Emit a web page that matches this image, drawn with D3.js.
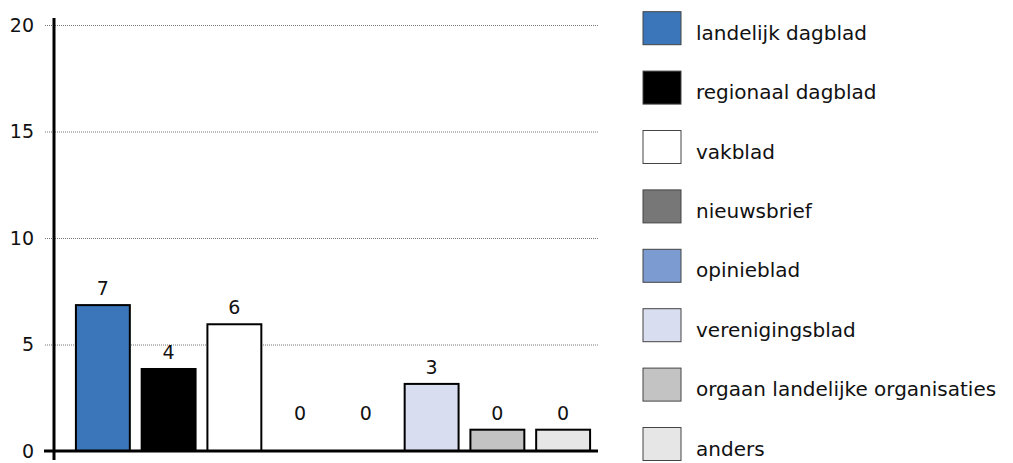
<!DOCTYPE html>
<html>
<head>
<meta charset="utf-8">
<title>Bar Chart</title>
<script src="https://d3js.org/d3.v7.min.js"></script>
<style>
  body { margin: 0; background: #fff; }
  text { font-family: "DejaVu Sans", sans-serif; fill: #111; }
</style>
</head>
<body>
<script>
// data
var categories = ["landelijk dagblad", "regionaal dagblad", "vakblad", "nieuwsbrief",
    "opinieblad", "verenigingsblad", "orgaan landelijke organisaties", "anders"];
var counts = [7, 4, 6, 0, 0, 3, 0, 0];              // printed labels
var barHeights = [6.85, 3.85, 5.95, 0, 0, 3.15, 1, 1]; // drawn bar heights
var colors = ["#3b76ba", "#000000", "#ffffff", "#777777", "#7b9bd1", "#d8ddef", "#c3c3c3", "#e6e6e6"];
var yTicks = [0, 5, 10, 15, 20];

var width = 1013, height = 463;
var plotLeft = 44, axisX = 54, plotRight = 598, zeroY = 451, topY = 25;

var svg = d3.select("body").append("svg")
    .attr("width", width)
    .attr("height", height);

var y = d3.scaleLinear().domain([0, 20]).range([zeroY, topY]);

var x = d3.scaleBand()
    .domain(categories)
    .range([70, 596])
    .paddingInner(0.18)
    .paddingOuter(0.09);

// gridlines + tick labels
var yAxis = d3.axisLeft(y)
    .tickValues(yTicks)
    .tickSize(plotRight - plotLeft)
    .tickPadding(10);

var gy = svg.append("g")
    .attr("transform", "translate(" + plotRight + ",0)")
    .call(yAxis);
gy.select(".domain").remove();
gy.selectAll(".tick line")
    .attr("stroke", "#777")
    .attr("stroke-width", 1)
    .attr("stroke-dasharray", "1,1");
gy.selectAll(".tick text")
    .attr("font-size", 19)
    .attr("font-family", "DejaVu Sans")
    .attr("fill", "#111");

// bars
svg.selectAll(".bar")
    .data(categories)
    .enter()
    .append("rect")
    .attr("class", "bar")
    .attr("x", function(d) { return x(d); })
    .attr("width", x.bandwidth())
    .attr("y", function(d, i) { return y(barHeights[i]); })
    .attr("height", function(d, i) { return y(0) - y(barHeights[i]); })
    .attr("fill", function(d, i) { return colors[i]; })
    .attr("stroke", "#000")
    .attr("stroke-width", 2)
    .style("display", function(d, i) { return barHeights[i] > 0 ? null : "none"; });

// value labels
svg.selectAll(".val")
    .data(categories)
    .enter()
    .append("text")
    .attr("class", "val")
    .attr("x", function(d) { return x(d) + x.bandwidth() / 2; })
    .attr("y", function(d, i) { return y(Math.max(barHeights[i], 1)) - 10; })
    .attr("text-anchor", "middle")
    .attr("font-size", 19)
    .text(function(d, i) { return counts[i]; });

// axis lines
svg.append("line")
    .attr("x1", plotLeft).attr("x2", plotRight)
    .attr("y1", zeroY).attr("y2", zeroY)
    .attr("stroke", "#000").attr("stroke-width", 3);
svg.append("line")
    .attr("x1", axisX).attr("x2", axisX)
    .attr("y1", 18).attr("y2", 460)
    .attr("stroke", "#000").attr("stroke-width", 3);

// legend
var legend = svg.selectAll(".legend")
    .data(categories)
    .enter()
    .append("g")
    .attr("class", "legend")
    .attr("transform", function(d, i) { return "translate(643," + (11.7 + i * 59.4) + ")"; });

legend.append("rect")
    .attr("width", 38)
    .attr("height", 33)
    .attr("fill", function(d, i) { return colors[i]; })
    .attr("stroke", "#444")
    .attr("stroke-width", 1);

legend.append("text")
    .attr("x", 53)
    .attr("y", 28)
    .attr("font-size", 20)
    .text(function(d) { return d; });
</script>
</body>
</html>
